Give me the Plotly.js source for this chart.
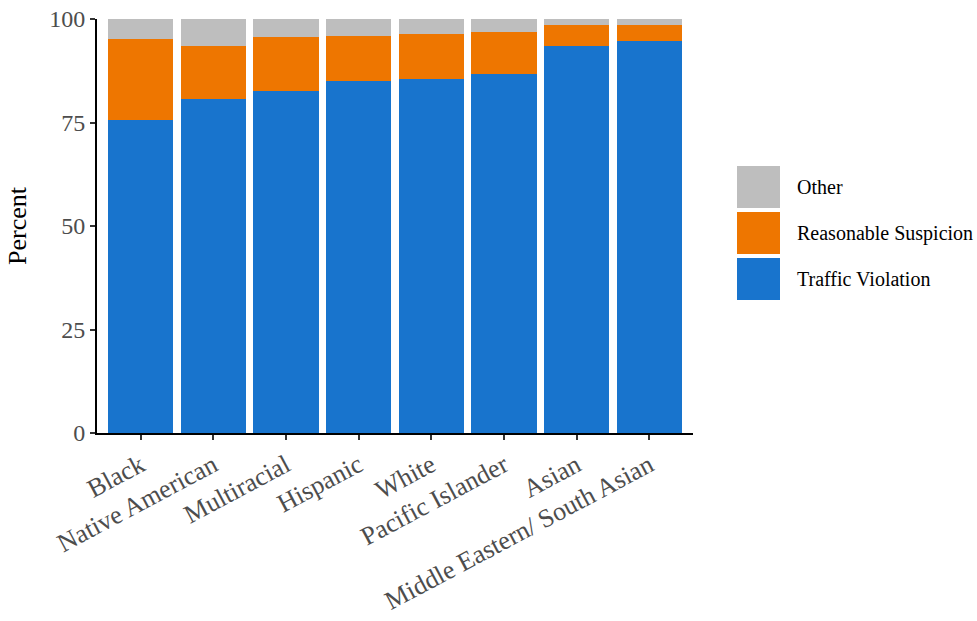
<!DOCTYPE html>
<html>
<head>
<meta charset="utf-8">
<script src="https://cdn.plot.ly/plotly-3.0.1.min.js"></script>
<style>html,body{margin:0;padding:0;background:#fff;}#chart{width:977px;height:621px;}</style>
</head>
<body>
<div id="chart"></div>
<script>
const categories = ["Black", "Native American", "Multiracial", "Hispanic", "White", "Pacific Islander", "Asian", "Middle Eastern/ South Asian"];
const trafficViolation = [75.6, 80.6, 82.7, 85.1, 85.6, 86.7, 93.6, 94.8];
const reasonableSuspicion = [19.5, 13.0, 13.0, 10.9, 10.7, 10.1, 5.0, 3.8];
const other = [4.9, 6.4, 4.3, 4.0, 3.7, 3.2, 1.4, 1.4];
const yTicks = [0, 25, 50, 75, 100];
const seriesNames = ["Traffic Violation", "Reasonable Suspicion", "Other"];
const seriesColors = ["#1874CD", "#EE7600", "#BEBEBE"];

const FONT = "Liberation Serif";
const seriesValues = [trafficViolation, reasonableSuspicion, other];
const traces = seriesValues.map((vals, i) => ({
  type: "bar",
  x: categories,
  y: vals,
  name: seriesNames[i],
  marker: {color: seriesColors[i], line: {width: 0}},
  width: 0.9,
  showlegend: false,
  hoverinfo: "x+y+name"
}));

// Manual legend (ggplot style large keys)
const legendOrder = [2, 1, 0];
const shapes = [];
const annotations = [];
const keyX0 = 737, keyW = 43, keyH = 42, keyY0 = 166, gap = 4;
const W = 977, H = 621;
legendOrder.forEach((si, k) => {
  const y0 = keyY0 + k * (keyH + gap);
  shapes.push({
    type: "rect", xref: "paper", yref: "paper",
    x0: (keyX0 - 97) / (693 - 97), x1: (keyX0 + keyW - 97) / (693 - 97),
    y0: (433 - (y0 + keyH)) / (433 - 19), y1: (433 - y0) / (433 - 19),
    fillcolor: seriesColors[si], line: {width: 0}
  });
  annotations.push({
    xref: "paper", yref: "paper",
    x: (795 - 97) / (693 - 97), y: (433 - (y0 + keyH / 2)) / (433 - 19),
    xanchor: "left", yanchor: "middle", showarrow: false,
    text: seriesNames[si],
    font: {family: FONT, size: 20, color: "#000"}
  });
});

const layout = {
  width: W, height: H,
  barmode: "stack",
  bargap: 0.1,
  paper_bgcolor: "#fff",
  plot_bgcolor: "#fff",
  margin: {l: 97, r: 284, t: 19, b: 188, pad: 0},
  font: {family: FONT},
  xaxis: {
    type: "category",
    range: [-0.6, 7.6],
    showgrid: false, zeroline: false,
    showline: true, linecolor: "#000", linewidth: 2,
    ticks: "outside", ticklen: 5, tickcolor: "#333", tickwidth: 2,
    tickangle: -28,
    tickfont: {family: FONT, size: 26, color: "#4D4D4D"}
  },
  yaxis: {
    range: [0, 100],
    tickvals: yTicks,
    ticktext: yTicks.map(String),
    showgrid: false, zeroline: false,
    showline: true, linecolor: "#000", linewidth: 2,
    ticks: "outside", ticklen: 5, tickcolor: "#333", tickwidth: 2,
    tickfont: {family: FONT, size: 24, color: "#4D4D4D"},
    title: {text: "Percent", font: {family: FONT, size: 26, color: "#000"}, standoff: 15}
  },
  shapes: shapes,
  annotations: annotations,
  showlegend: false
};

Plotly.newPlot("chart", traces, layout, {displayModeBar: false, staticPlot: true});
</script>
</body>
</html>
